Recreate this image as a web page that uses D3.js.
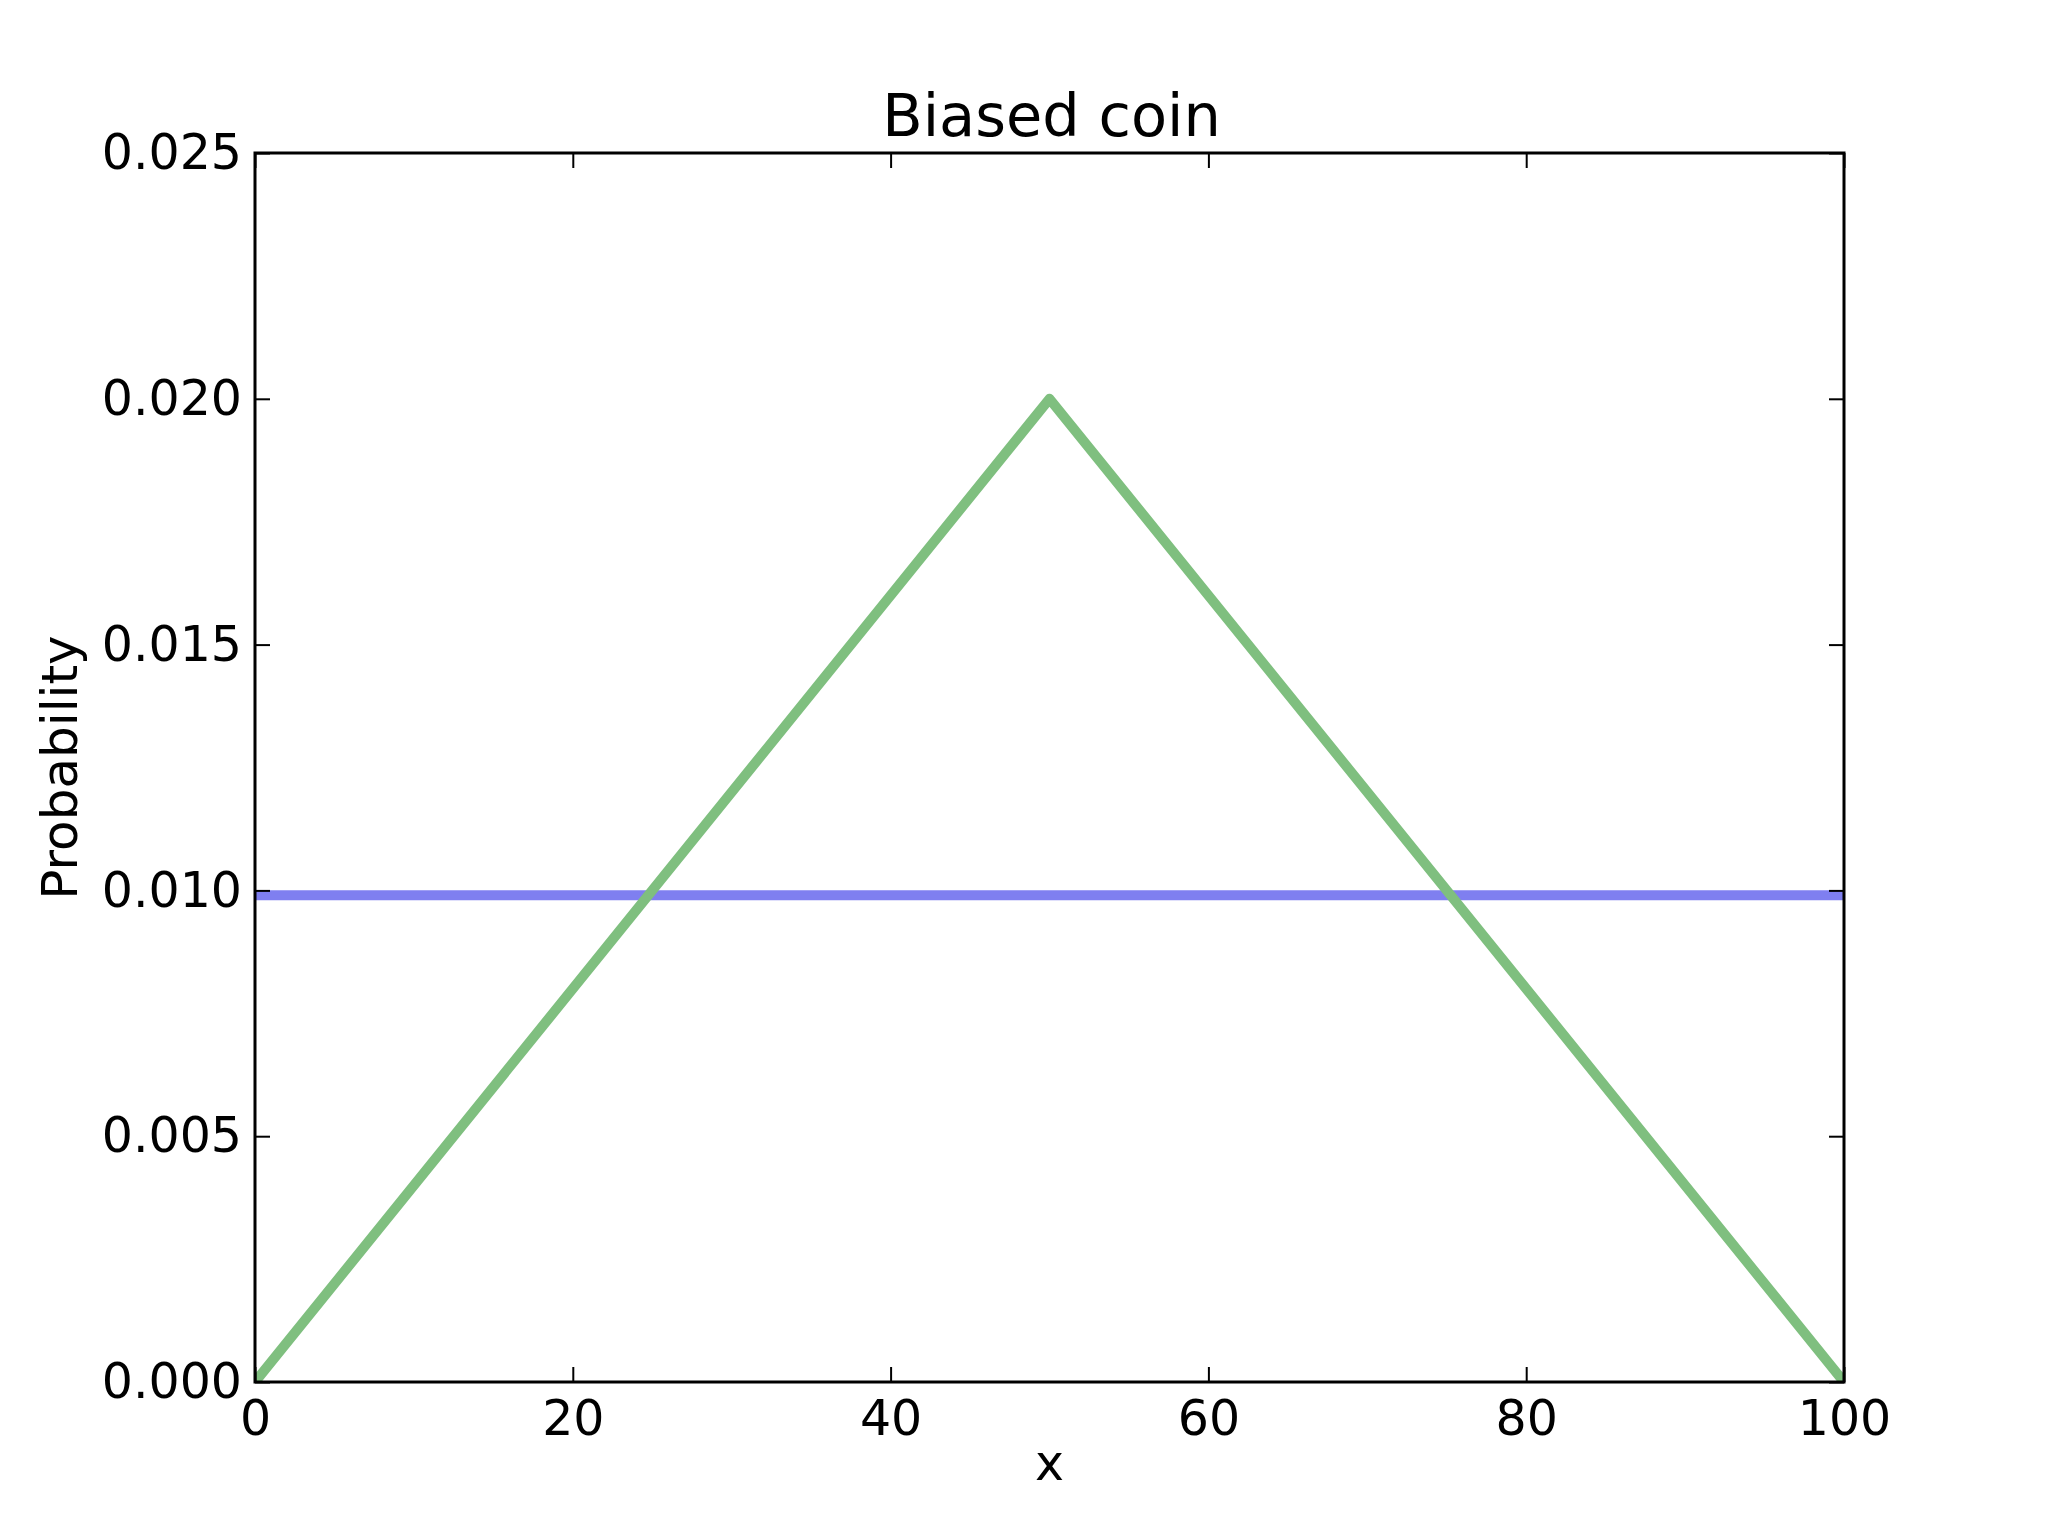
<!DOCTYPE html>
<html><head><meta charset="utf-8">
<script src="https://cdn.jsdelivr.net/npm/d3@7"></script>
<style>body{margin:0;background:#fff}svg{display:block}text{font-family:"DejaVu Sans",sans-serif;fill:#000}</style>
</head><body>
<script>
const title = "Biased coin";
const xLabel = "x";
const yLabel = "Probability";
const xTicks = [0, 20, 40, 60, 80, 100];
const yTicks = [0.000, 0.005, 0.010, 0.015, 0.020, 0.025];
const uniformX = [0, 100];
const uniformY = [0.0099, 0.0099];
const triangleX = [0, 50, 100];
const triangleY = [0, 0.02, 0];

const W = 2048, H = 1536;
const m = {l: 255, r: 2048 - 1844, t: 153, b: 1536 - 1382};
const svg = d3.select("body").append("svg").attr("width", W).attr("height", H);
const x = d3.scaleLinear().domain([0, 100]).range([m.l, W - m.r]);
const y = d3.scaleLinear().domain([0, 0.025]).range([H - m.b, m.t]);

svg.append("clipPath").attr("id", "clip").append("rect")
  .attr("x", m.l).attr("y", m.t).attr("width", W - m.l - m.r).attr("height", H - m.t - m.b);

const line = d3.line().x(d => x(d[0])).y(d => y(d[1]));
const g = svg.append("g").attr("clip-path", "url(#clip)");
g.append("path").datum(uniformX.map((v, i) => [v, uniformY[i]]))
  .attr("d", line).attr("fill", "none").attr("stroke", "#7f7ff0").attr("stroke-width", 10);
g.append("path").datum(triangleX.map((v, i) => [v, triangleY[i]]))
  .attr("d", line).attr("fill", "none").attr("stroke", "#7fbf7f").attr("stroke-width", 10)
  .attr("stroke-linejoin", "round");

const fs = 49;
const ax = svg.append("g");
const axBottom = d3.axisBottom(x).tickValues(xTicks).tickSize(-15).tickPadding(18).tickFormat(d3.format("d"));
const axTop = d3.axisTop(x).tickValues(xTicks).tickSize(-15).tickFormat("");
const axLeft = d3.axisLeft(y).tickValues(yTicks).tickSize(-15).tickPadding(13).tickFormat(d3.format(".3f"));
const axRight = d3.axisRight(y).tickValues(yTicks).tickSize(-15).tickFormat("");
[ [axBottom, `translate(0,${H - m.b})`], [axTop, `translate(0,${m.t})`],
  [axLeft, `translate(${m.l},0)`], [axRight, `translate(${W - m.r},0)`] ].forEach(([a, t]) => {
  const gg = ax.append("g").attr("transform", t).call(a);
  gg.select(".domain").remove();
  gg.selectAll(".tick line").attr("stroke", "#000").attr("stroke-width", 2);
  gg.selectAll(".tick text").style("font-size", fs + "px").style("font-family", "DejaVu Sans").attr("fill", "#000");
});

svg.append("rect").attr("x", m.l).attr("y", m.t).attr("width", W - m.l - m.r).attr("height", H - m.t - m.b)
  .attr("fill", "none").attr("stroke", "#000").attr("stroke-width", 3);

svg.append("text").attr("x", (m.l + W - m.r) / 2 + 2).attr("y", 136).attr("text-anchor", "middle")
  .style("font-size", "59px").text(title);
svg.append("text").attr("x", (m.l + W - m.r) / 2).attr("y", 1480).attr("text-anchor", "middle")
  .style("font-size", fs + "px").text(xLabel);
svg.append("text").attr("transform", `translate(77,${(m.t + H - m.b) / 2}) rotate(-90)`).attr("text-anchor", "middle")
  .style("font-size", "50px").text(yLabel);
</script>
</body></html>
